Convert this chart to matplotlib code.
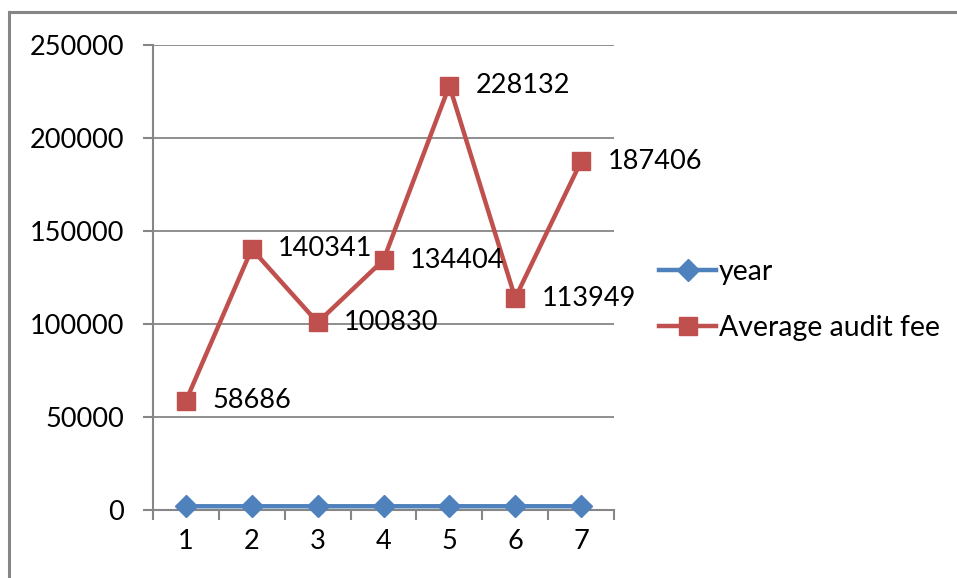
import matplotlib
matplotlib.use("Agg")
import matplotlib.pyplot as plt
from matplotlib.patches import Rectangle
from matplotlib.lines import Line2D

categories = [1, 2, 3, 4, 5, 6, 7]
year = [2005, 2006, 2007, 2008, 2009, 2010, 2011]
avg_fee = [58686, 140341, 100830, 134404, 228132, 113949, 187406]
y_ticks = [0, 50000, 100000, 150000, 200000, 250000]

blue = "#4F81BD"
red = "#C0504D"
grey = "#868686"
font = ["Lato", "DejaVu Sans"]

W, H = 957, 578
fig = plt.figure(figsize=(W / 100, H / 100), dpi=100)

# outer chart border
fig.patches.append(Rectangle((8.5 / W, -0.1), 2.0, 1 - 11.5 / H + 0.1,
                             transform=fig.transFigure, fill=False,
                             edgecolor=grey, linewidth=2.2, zorder=0))

ax = fig.add_axes([153 / W, 1 - 510 / H, 461 / W, 465 / H])
ax.set_xlim(0.5, 7.5)
ax.set_ylim(0, 250000)

ax.plot(categories, year, color=blue, linewidth=3.2, marker="D", markersize=11,
        markeredgecolor=blue, markerfacecolor=blue, zorder=3, clip_on=False)
ax.plot(categories, avg_fee, color=red, linewidth=3.2, marker="s", markersize=12.5,
        markeredgecolor=red, markerfacecolor=red, zorder=3, clip_on=False)

for x, v in zip(categories, avg_fee):
    ax.annotate(str(v), (x, v), xytext=(19, 0), textcoords="offset points",
                ha="left", va="center", fontsize=19.5, family=font, color="black")

ax.set_yticks(y_ticks)
ax.set_yticklabels([str(t) for t in y_ticks], fontsize=19.5, family=font)
ax.set_xticks(categories)
ax.set_xticklabels([str(c) for c in categories], fontsize=19.5, family=font)
ax.set_xticks([c + 0.5 for c in [0] + categories], minor=True)
ax.tick_params(axis="x", which="major", length=0, pad=14)
ax.tick_params(axis="x", which="minor", length=7, color=grey, width=1.5, direction="out")
ax.tick_params(axis="y", length=7, color=grey, width=1.5, pad=14)

ax.grid(axis="y", color=grey, linewidth=1.3)
ax.set_axisbelow(True)
for s in ["top", "right"]:
    ax.spines[s].set_visible(False)
for s in ["left", "bottom"]:
    ax.spines[s].set_color(grey)
    ax.spines[s].set_linewidth(1.5)

handles = [
    Line2D([], [], color=blue, linewidth=3.2, marker="D", markersize=11),
    Line2D([], [], color=red, linewidth=3.2, marker="s", markersize=12.5),
]
fig.legend(handles, ["year", "Average audit fee"], loc="center left",
           bbox_to_anchor=(648 / W, 1 - 300 / H), frameon=False,
           prop={"family": font, "size": 20.5}, handlelength=2.0,
           handletextpad=0.1, labelspacing=1.05, borderaxespad=0)

fig.savefig("out.png", dpi=100)
